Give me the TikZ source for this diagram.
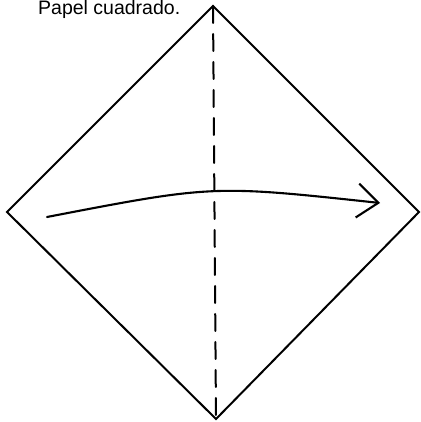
\documentclass[tikz,border=0pt]{standalone}
\usepackage{fontspec}
\setmainfont{Liberation Sans}
\usetikzlibrary{arrows.meta}

\begin{document}
\begin{tikzpicture}[x=1pt,y=-1pt,>={Straight Barb[length=21pt,width=34pt]},line cap=round,line join=miter,
  paper/.style={line width=2pt},
  valley/.style={line width=2pt,dash pattern=on 17pt off 11pt},
  fold/.style={line width=2.1pt,->}]
\useasboundingbox (0,0) rectangle (420,422);
% corners of the square sheet
\coordinate (top) at (213,6);
\coordinate (right) at (419,212);
\coordinate (bottom) at (216,419);
\coordinate (left) at (7,212);
\node[anchor=base west,inner sep=0pt,font=\fontsize{19.5}{22}\selectfont] (title) at (38,14.8) {Papel cuadrado.};
\draw[paper] (top) -- (right) -- (bottom) -- (left) -- cycle;
\draw[valley] (top) -- (bottom);
% fold arrow
\coordinate (from) at (47,217);
\coordinate (to) at (380,203);
\draw[fold] (from) .. controls (213,185) .. (to);
\end{tikzpicture}
\end{document}
